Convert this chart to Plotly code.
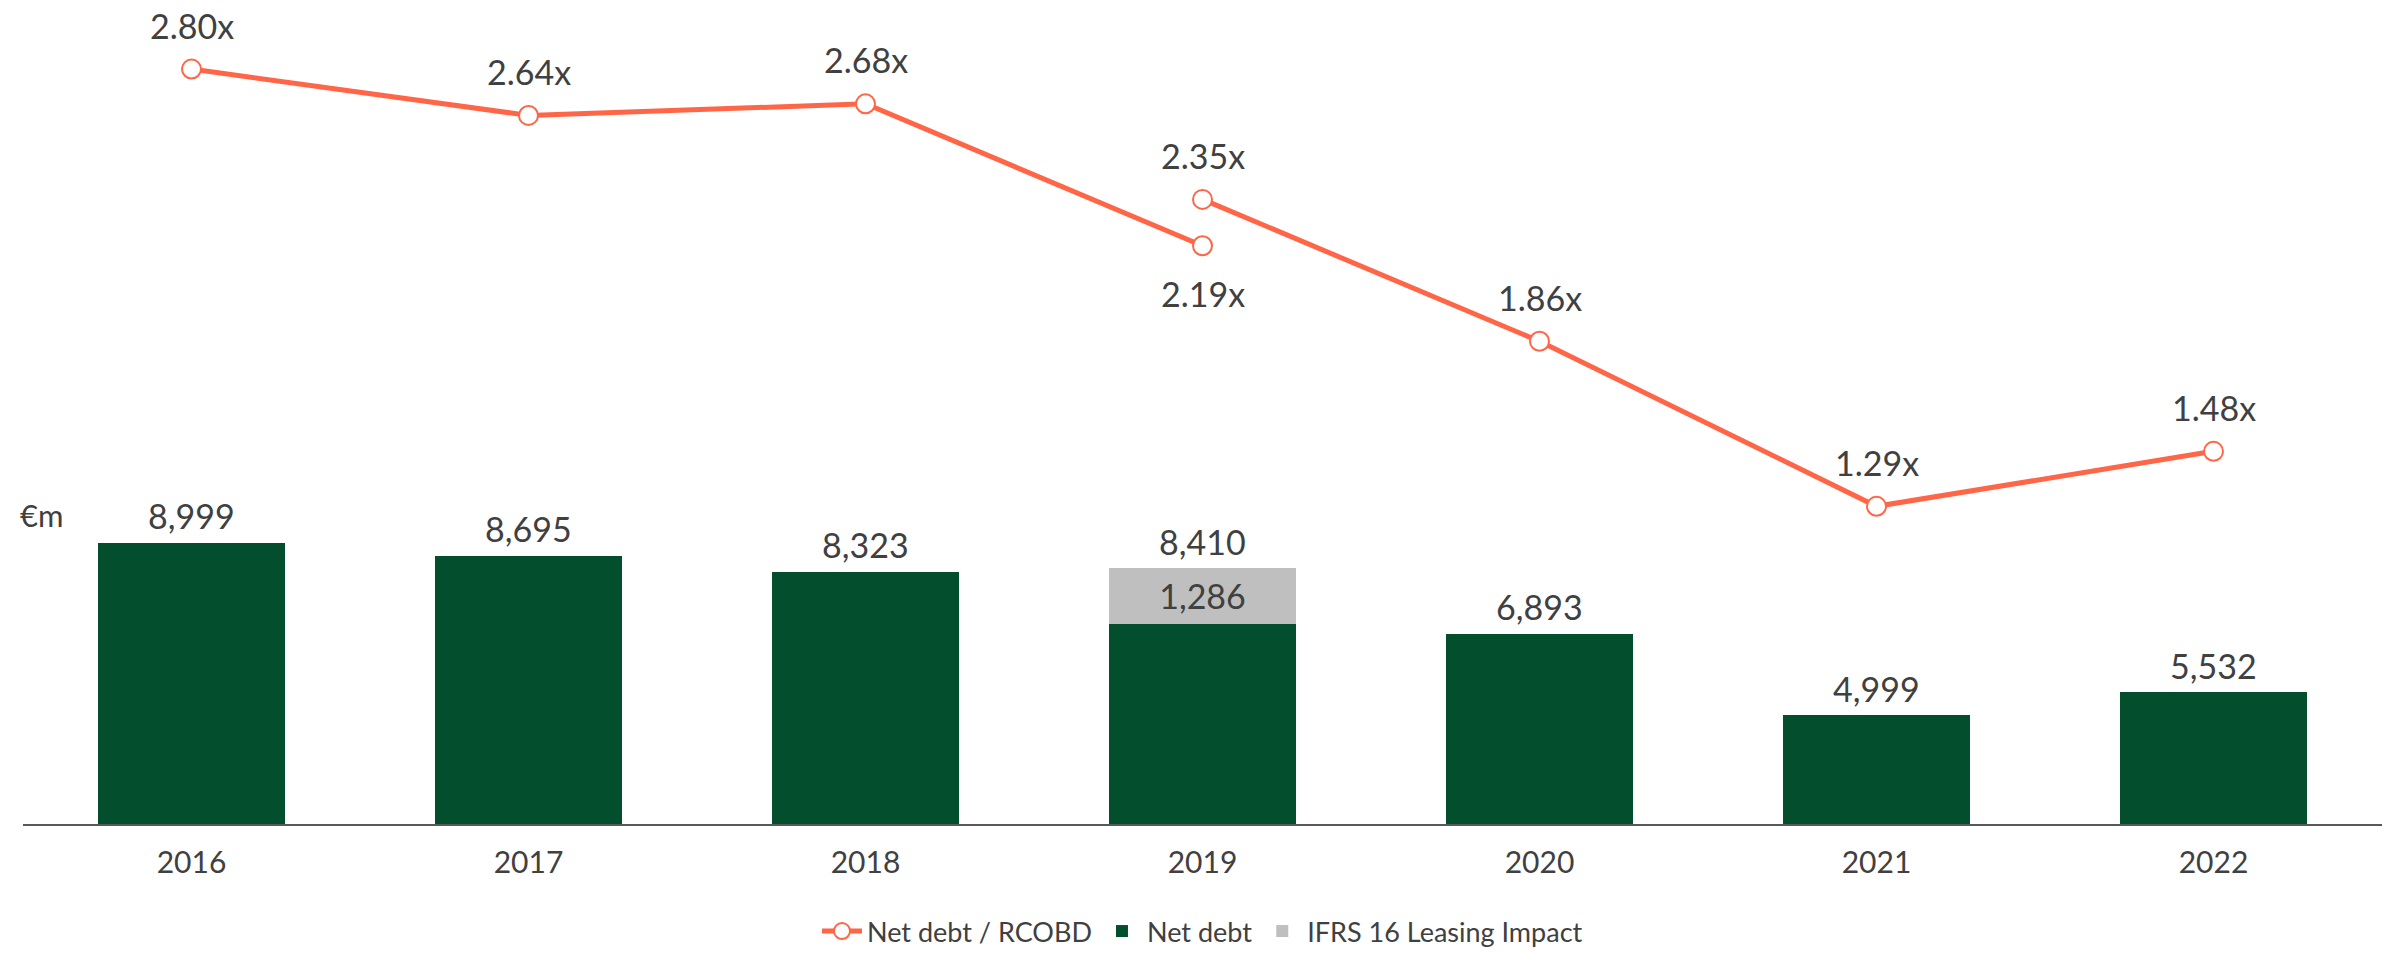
import plotly.graph_objects as go

years = ["2016", "2017", "2018", "2019", "2020", "2021", "2022"]
net_debt = [8999, 8695, 8323, 7124, 6893, 4999, 5532]
ifrs16 = [None, None, None, 1286, None, None, None]
total_labels = ["8,999", "8,695", "8,323", "8,410", "6,893", "4,999", "5,532"]

# Net debt / RCOBD: 2019 shown before (2.19x) and after (2.35x) IFRS 16
ratio_x = ["2016", "2017", "2018", "2019", "2019", "2019", "2020", "2021", "2022"]
ratio_y = [2.80, 2.64, 2.68, 2.19, None, 2.35, 1.86, 1.29, 1.48]
ratio_above = [True, True, True, False, None, True, True, True, True]

GREEN = "#024E2D"
GREY = "#BFBFBF"
ORANGE = "#FF6647"
TXT = "#404040"
FONT = "Lato"

W, H = 2397, 955
ml, mr, mt, mb = 23, 15, 10, 131
pw, ph = W - ml - mr, H - mt - mb

fig = go.Figure()

fig.add_trace(go.Scatter(
    x=ratio_x, y=ratio_y, yaxis="y2", mode="lines+markers",
    name="Net debt / RCOBD", connectgaps=False,
    line=dict(color=ORANGE, width=5),
    marker=dict(size=19, color="white", line=dict(color=ORANGE, width=2)),
    hoverinfo="skip",
))
fig.add_trace(go.Bar(
    x=years, y=net_debt, name="Net debt", marker=dict(color=GREEN, line=dict(width=0)),
))
fig.add_trace(go.Bar(
    x=years, y=ifrs16, name="IFRS 16 Leasing Impact", marker=dict(color=GREY, line=dict(width=0)),
    text=[f"{v:,}" if v else "" for v in ifrs16], textposition="inside", insidetextanchor="middle",
    textangle=0, textfont=dict(size=34, color=TXT, family=FONT), constraintext="none",
))

annotations = []
for i, yr in enumerate(years):
    tot = net_debt[i] + (ifrs16[i] or 0)
    annotations.append(dict(x=i, y=tot, xref="x", yref="y", text=total_labels[i],
                            showarrow=False, yshift=27,
                            font=dict(size=34, color=TXT, family=FONT)))
for xv, yv, above in zip(ratio_x, ratio_y, ratio_above):
    if yv is None:
        continue
    annotations.append(dict(x=years.index(xv), y=yv, xref="x", yref="y2", text=f"{yv:.2f}x",
                            showarrow=False, yshift=44 if above else -48,
                            font=dict(size=34, color=TXT, family=FONT)))
annotations.append(dict(x=(18 - ml) / pw, y=(H - mb - 515) / ph, xref="paper", yref="paper",
                        text="€m", showarrow=False, xanchor="left", yanchor="middle",
                        font=dict(size=31, color=TXT, family=FONT)))

fig.update_layout(
    width=W, height=H,
    margin=dict(l=ml, r=mr, t=mt, b=mb, autoexpand=False),
    paper_bgcolor="white", plot_bgcolor="white",
    barmode="stack", bargap=0.448,
    font=dict(family=FONT, color=TXT),
    xaxis=dict(type="category", categoryorder="array", categoryarray=years,
               range=[-0.5, len(years) - 0.5], autorange=False, automargin=False,
               showline=True, linecolor="#595959", linewidth=1.5,
               showgrid=False, ticks="", tickfont=dict(size=30, color=TXT, family=FONT),
               ticklabelstandoff=11),
    yaxis=dict(range=[2486, 21334], visible=False, showgrid=False),
    yaxis2=dict(range=[0.193, 3.004], overlaying="y", visible=False, showgrid=False),
    legend=dict(orientation="h", x=0.5, xanchor="center", y=-(956 - (H - mb)) / ph,
                yanchor="bottom", font=dict(size=27, color=TXT, family=FONT),
                traceorder="normal", itemwidth=40),
    annotations=annotations,
    showlegend=True,
)

fig.write_html("out.html", config={"displayModeBar": False},
               post_script="document.body.style.margin='0px';")
